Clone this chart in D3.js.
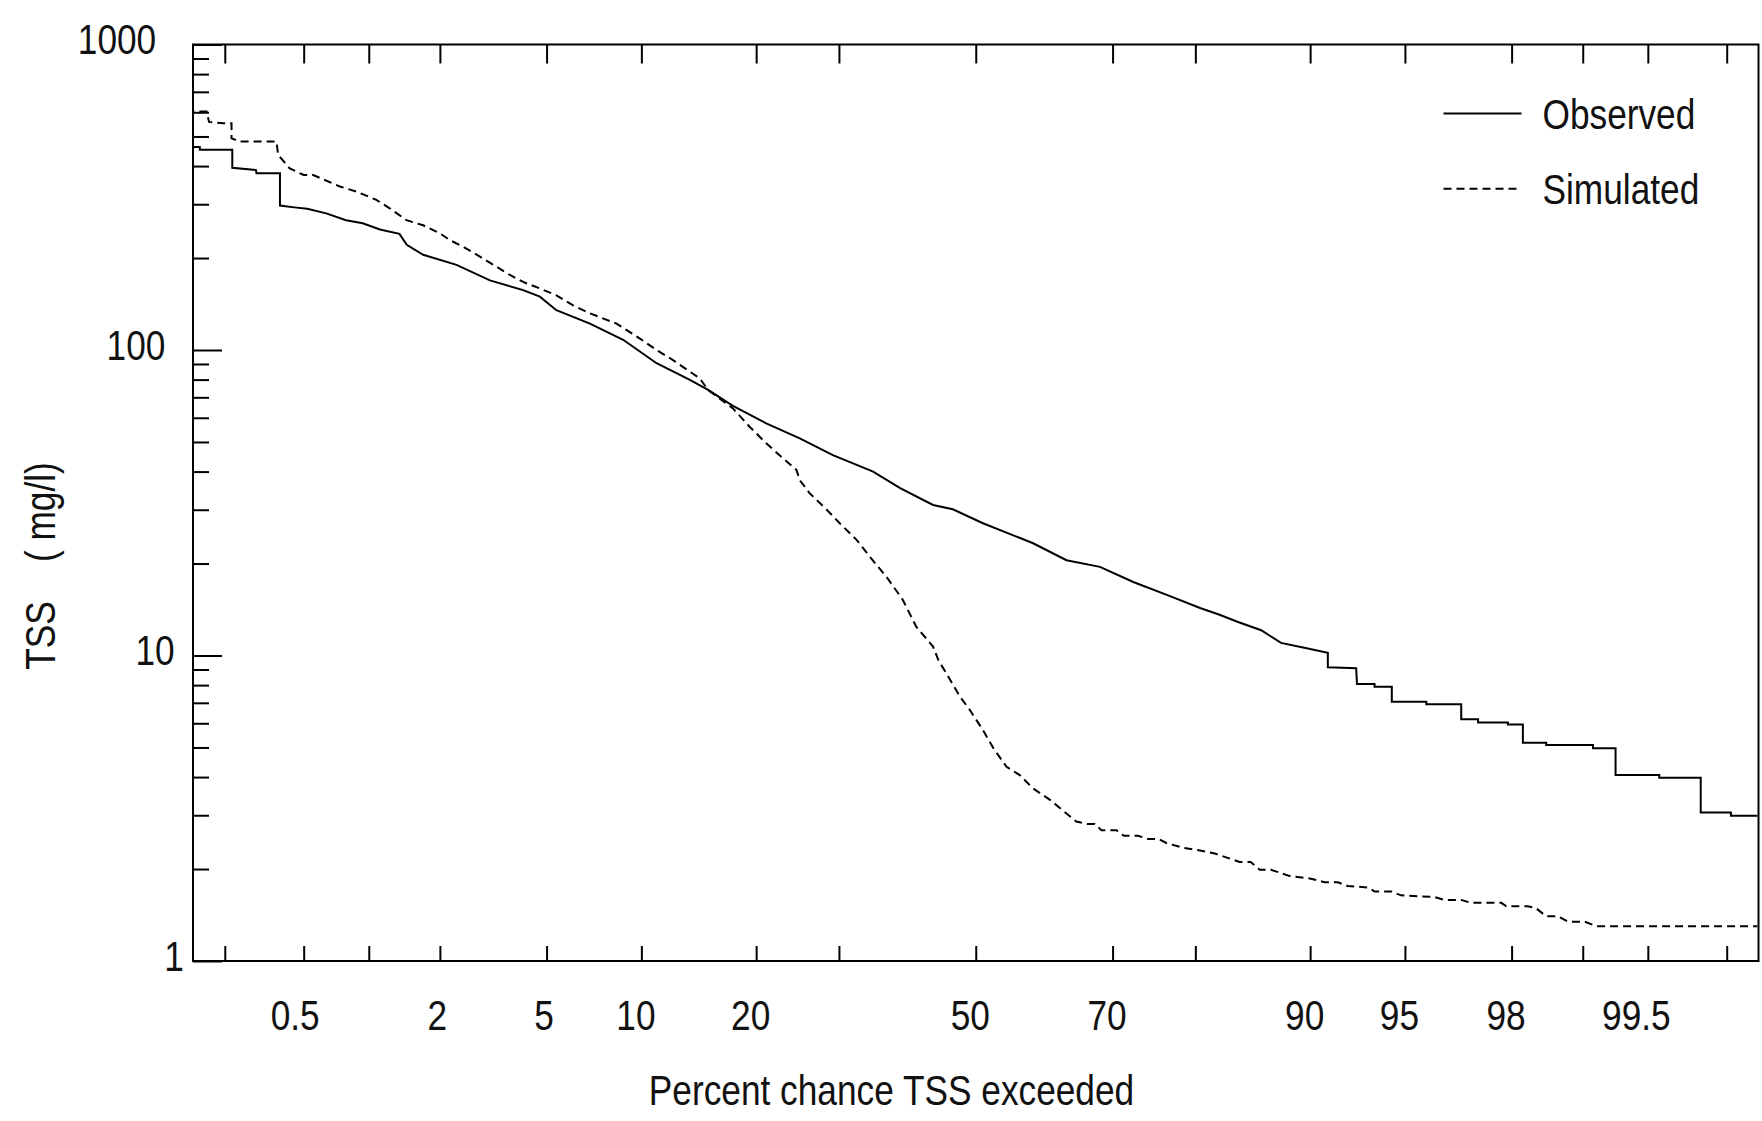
<!DOCTYPE html>
<meta charset="utf-8">
<style>
body { margin: 0; background: #fff; }
text { font-family: "Liberation Sans", Arial, sans-serif; font-size: 43px; fill: #111; }
.frame { fill: none; stroke: #000; stroke-width: 2px; }
.tick line { stroke: #000; stroke-width: 2px; }
.obs { fill: none; stroke: #000; stroke-width: 2px; }
.sim { fill: none; stroke: #000; stroke-width: 2px; stroke-dasharray: 8,5; }
</style>
<body>
<script src="https://d3js.org/d3.v7.min.js"></script>
<script>

// percent chance exceeded (x) / TSS mg/l (y)
var observed = [
  [0.135, 462], [0.147, 462], [0.147, 452], [0.219, 452], [0.219, 395], [0.29, 388],
  [0.292, 379], [0.383, 379], [0.383, 297], [0.45, 293], [0.52, 290], [0.64, 280],
  [0.79, 266], [0.94, 260], [1.12, 248], [1.36, 240], [1.46, 221], [1.71, 205],
  [2.33, 190], [3.13, 169], [4.14, 157], [4.74, 149.5], [5.4, 135], [6.96, 122],
  [8.83, 108], [11.06, 90.5], [13.66, 79.8], [15.25, 74], [17.6, 65.6], [21.1, 57.5],
  [25.0, 51.4], [29.2, 45.3], [34.7, 40.0], [38.6, 35.3], [43.5, 31.1], [46.5, 30.1],
  [51.1, 27.1], [58.7, 23.3], [63.6, 20.5], [68.3, 19.5], [72.7, 17.4], [76.8, 15.8],
  [80.5, 14.3], [82.5, 13.6], [84.2, 12.9], [86.3, 12.1], [87.9, 11.0], [89.6, 10.6],
  [91.14, 10.2], [91.14, 9.15], [92.76, 9.08], [92.8, 8.07], [93.68, 8.07], [93.68, 7.9],
  [94.46, 7.9], [94.46, 7.06], [95.79, 7.06], [95.79, 6.92], [96.86, 6.92], [96.86, 6.18],
  [97.29, 6.18], [97.29, 6.04], [97.93, 6.04], [97.93, 5.94], [98.2, 5.94], [98.2, 5.18],
  [98.56, 5.18], [98.56, 5.09], [99.1, 5.09], [99.1, 4.97], [99.29, 4.97], [99.29, 4.06],
  [99.56, 4.06], [99.56, 3.98], [99.727, 3.98], [99.727, 3.06], [99.81, 3.06], [99.81, 2.99],
  [99.863, 2.99]
];

var simulated = [
  [0.135, 634], [0.135, 603], [0.16, 603], [0.165, 558], [0.196, 552], [0.217, 552],
  [0.217, 493], [0.24, 481], [0.368, 481], [0.375, 435], [0.428, 393], [0.5, 374],
  [0.555, 374], [0.619, 362], [0.74, 343], [0.882, 330], [1.08, 310], [1.235, 291],
  [1.456, 266], [1.709, 256], [2.0, 241], [2.19, 229], [2.47, 218], [2.87, 202],
  [3.31, 187.5], [3.71, 176], [4.14, 167], [4.74, 159], [5.4, 151], [6.14, 140],
  [6.96, 131.8], [8.43, 122], [9.9, 109], [11.06, 100], [12.3, 92.7], [13.66, 84.9],
  [14.5, 80.8], [15.25, 74], [17.6, 64.4], [19.3, 56.1], [21.1, 49.5], [23.0, 44.2],
  [24.6, 40.5], [25.0, 37.5], [26.2, 34.0], [28.4, 30.0], [30.1, 27.1], [32.4, 23.9],
  [34.2, 21.1], [36.6, 18.1], [39.0, 15.2], [41.0, 12.4], [43.5, 10.7], [44.3, 9.66],
  [45.5, 8.75], [47.6, 7.33], [49.1, 6.63], [51.1, 5.7], [52.7, 4.97], [54.7, 4.32],
  [56.7, 4.06], [58.7, 3.67], [61.2, 3.37], [63.6, 3.04], [65.0, 2.86], [66.5, 2.81],
  [67.6, 2.81], [68.5, 2.68], [70.5, 2.68], [71.5, 2.57], [73.3, 2.57], [74.5, 2.51],
  [75.8, 2.51], [76.8, 2.43], [78.6, 2.35], [80.5, 2.3], [82.0, 2.25], [84.4, 2.11],
  [85.4, 2.11], [86.17, 1.99], [87.1, 1.99], [88.5, 1.9], [90.05, 1.86], [90.94, 1.81],
  [91.74, 1.81], [92.3, 1.76], [93.36, 1.74], [93.68, 1.69], [94.43, 1.69], [94.84, 1.64],
  [96.07, 1.62], [96.38, 1.585], [96.86, 1.585], [97.11, 1.55], [97.8, 1.55], [97.9, 1.51],
  [98.28, 1.51], [98.41, 1.49], [98.56, 1.4], [98.72, 1.4], [98.84, 1.345], [99.02, 1.345],
  [99.13, 1.3], [99.863, 1.3]
];

var xTicks = [0.2, 0.5, 1, 2, 5, 10, 20, 30, 50, 70, 80, 90, 95, 98, 99, 99.5, 99.8];
var xLabels = ["0.5", "2", "5", "10", "20", "50", "70", "90", "95", "98", "99.5"];
var yTicks = [1, 10, 100, 1000];
var seriesNames = ["Observed", "Simulated"];

// inverse normal cdf (Acklam) for the probability axis
function probit(p) {
  var a = [-3.969683028665376e+01, 2.209460984245205e+02, -2.759285104469687e+02, 1.383577518672690e+02, -3.066479806614716e+01, 2.506628277459239e+00],
      b = [-5.447609879822406e+01, 1.615858368580409e+02, -1.556989798598866e+02, 6.680131188771972e+01, -1.328068155288572e+01],
      c = [-7.784894002430293e-03, -3.223964580411365e-01, -2.400758277161838e+00, -2.549732539343734e+00, 4.374664141464968e+00, 2.938163982698783e+00],
      d = [7.784695709041462e-03, 3.224671290700398e-01, 2.445134137142996e+00, 3.754408661907416e+00];
  var pl = 0.02425, q, r;
  if (p < pl) {
    q = Math.sqrt(-2 * Math.log(p));
    return (((((c[0]*q+c[1])*q+c[2])*q+c[3])*q+c[4])*q+c[5]) / ((((d[0]*q+d[1])*q+d[2])*q+d[3])*q+1);
  }
  if (p <= 1 - pl) {
    q = p - 0.5; r = q * q;
    return (((((a[0]*r+a[1])*r+a[2])*r+a[3])*r+a[4])*r+a[5])*q / (((((b[0]*r+b[1])*r+b[2])*r+b[3])*r+b[4])*r+1);
  }
  q = Math.sqrt(-2 * Math.log(1 - p));
  return -(((((c[0]*q+c[1])*q+c[2])*q+c[3])*q+c[4])*q+c[5]) / ((((d[0]*q+d[1])*q+d[2])*q+d[3])*q+1);
}

// narrow the font horizontally, the original uses a condensed face
var squeeze = " scale(0.82,1)";
function place(x, y) { return "translate(" + x + "," + y + ")" + squeeze; }

var margin = {top: 44.5, right: 3.5, bottom: 160, left: 193},
    width = 1762 - margin.left - margin.right,
    height = 1121 - margin.top - margin.bottom;

var z = d3.scaleLinear().domain([-3, 3]).range([0, width]);
var x = function(pct) { return z(probit(pct / 100)); };
var y = d3.scaleLog().domain([1, 1000]).range([height, 0]);

var svg = d3.select("body").append("svg")
    .attr("width", 1762)
    .attr("height", 1121)
  .append("g")
    .attr("transform", "translate(" + margin.left + "," + margin.top + ")");

var tickZ = xTicks.map(function(p) { return probit(p / 100); });
function labelFor(i) {
  var s = String(xTicks[i]);
  return xLabels.indexOf(s) >= 0 ? s : "";
}

// bottom axis, ticks pointing inward
var xAxisBottom = svg.append("g")
    .attr("transform", "translate(0," + height + ")")
    .call(d3.axisBottom(z).tickValues(tickZ).tickSize(-15).tickFormat(function(d, i) { return labelFor(i); }));
xAxisBottom.select(".domain").remove();
xAxisBottom.selectAll("text")
    .attr("x", 0).attr("y", 0).attr("dy", null)
    .attr("transform", function() { return place(-3 * this.textContent.length, 69); })
    .attr("font-size", null).attr("font-family", null);

// top axis
var xAxisTop = svg.append("g")
    .call(d3.axisTop(z).tickValues(tickZ).tickSize(-19).tickFormat(""));
xAxisTop.select(".domain").remove();

// left axis: majors with labels, minors without
var yAxis = svg.append("g")
    .call(d3.axisLeft(y).tickValues(yTicks).tickSize(-29).tickFormat(d3.format("d")));
yAxis.select(".domain").remove();
yAxis.selectAll("text")
    .attr("text-anchor", "middle")
    .attr("x", 0).attr("y", 0).attr("dy", null)
    .attr("transform", function() { return place(-19 * this.textContent.length, 9); })
    .attr("font-size", null).attr("font-family", null);

var minors = [];
[1, 10, 100].forEach(function(dec) {
  for (var k = 2; k <= 9; k++) minors.push(k * dec);
});
var yMinor = svg.append("g")
    .call(d3.axisLeft(y).tickValues(minors).tickSize(-16).tickFormat(""));
yMinor.select(".domain").remove();

// frame
svg.append("rect")
    .attr("class", "frame")
    .attr("x", 0).attr("y", 0)
    .attr("width", width).attr("height", height);

var line = d3.line()
    .x(function(d) { return x(d[0]); })
    .y(function(d) { return y(d[1]); });

svg.append("path").datum(observed).attr("class", "obs").attr("d", line);
svg.append("path").datum(simulated).attr("class", "sim").attr("d", line);

// legend
seriesNames.forEach(function(name, i) {
  var ly = 69 + i * 75.3;
  svg.append("line")
      .attr("class", i === 0 ? "obs" : "sim")
      .attr("x1", 1250.5).attr("x2", 1328.5)
      .attr("y1", ly).attr("y2", ly);
  svg.append("text")
      .attr("transform", place(1349.5, ly + 15))
      .text(name);
});

// axis titles
svg.append("text")
    .attr("transform", place(891.5 - margin.left, height + 144))
    .attr("text-anchor", "middle")
    .text("Percent chance TSS exceeded");

svg.append("text")
    .attr("transform", "translate(" + (55 - margin.left) + "," + (566 - margin.top) + ") rotate(-90)" + squeeze)
    .attr("text-anchor", "middle")
    .style("white-space", "pre")
    .text("TSS    ( mg/l)");

</script>
</body>
